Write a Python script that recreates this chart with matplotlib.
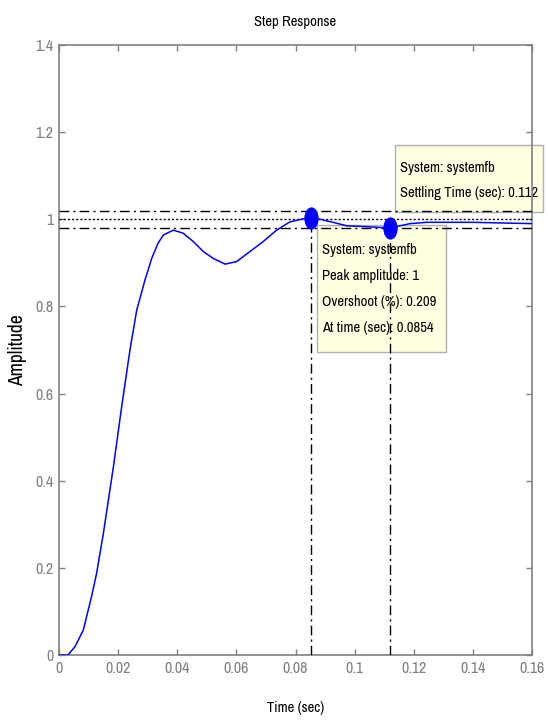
import matplotlib
matplotlib.use('Agg')
import matplotlib.pyplot as plt
from matplotlib.patches import Rectangle
from matplotlib.path import Path
from matplotlib.transforms import Affine2D
from matplotlib.ticker import FormatStrFormatter

plt.rcParams['font.family'] = ['Archivo Narrow', 'Liberation Sans', 'DejaVu Sans']

# step response
time = [0, 0.003, 0.0054, 0.0082, 0.011, 0.0127, 0.015, 0.0184, 0.0212, 0.024,
        0.0263, 0.0291, 0.0314, 0.0335, 0.0353, 0.0387, 0.042, 0.0454, 0.0488,
        0.0522, 0.0562, 0.0601, 0.0646, 0.0691, 0.0736, 0.0781, 0.0826, 0.0854,
        0.0883, 0.0927, 0.0973, 0.104, 0.112, 0.1154, 0.1187, 0.1244, 0.14, 0.16]
amplitude = [0, 0, 0.019, 0.057, 0.134, 0.187, 0.279, 0.432, 0.57, 0.70,
             0.792, 0.861, 0.911, 0.945, 0.964, 0.975, 0.968, 0.949, 0.926,
             0.910, 0.897, 0.903, 0.926, 0.949, 0.975, 0.994, 1.001, 1.002,
             1.0, 0.993, 0.985, 0.983, 0.98, 0.985, 0.990, 0.993, 0.993, 0.99]

peak_time, peak_amp = 0.0854, 1.002
settle_time, settle_amp = 0.112, 0.98
final_value = 1.0
band = [0.98, 1.02]

xticks = [0, 0.02, 0.04, 0.06, 0.08, 0.1, 0.12, 0.14, 0.16]
yticks = [0, 0.2, 0.4, 0.6, 0.8, 1.0, 1.2, 1.4]

peak_tip = ['System: systemfb', 'Peak amplitude: 1',
            'Overshoot (%): 0.209', 'At time (sec): 0.0854']
settle_tip = ['System: systemfb', 'Settling Time (sec): 0.112']

grey = '#808080'
tipcolor = '#ffffe1'
fs = 10.5

fig = plt.figure(figsize=(5.48, 7.22), dpi=100)
ax = fig.add_axes([0.1077, 0.0928, 0.8631, 0.8449])

# data tip boxes (under the lines, like in matlab)
ax.add_patch(Rectangle((0.1137, 1.0167), 0.05, 0.1538, facecolor=tipcolor,
                       edgecolor='#b0b0b0', lw=1, clip_on=False, zorder=1))
ax.add_patch(Rectangle((0.0873, 0.6954), 0.0436, 0.2915, facecolor=tipcolor,
                       edgecolor='#b0b0b0', lw=1, clip_on=False, zorder=1))
for i, s in enumerate(settle_tip):
    ax.text(0.1154, 1.1177 - i * 0.0574, s, fontsize=fs, va='center',
            clip_on=False, zorder=2)
for i, s in enumerate(peak_tip):
    ax.text(0.089, 0.9295 - i * 0.0597, s, fontsize=fs, va='center', zorder=2)

# settling band and final value
dashdot = (0, (7, 3, 1.5, 3))
for b in band:
    ax.axhline(b, color='k', lw=1, ls=dashdot, zorder=3)
ax.axhline(final_value, color='k', lw=1, ls=(0, (1.5, 1.5)), zorder=3)
ax.plot([peak_time, peak_time], [0, peak_amp], color='k', lw=1, ls=dashdot, zorder=3)
ax.plot([settle_time, settle_time], [0, settle_amp], color='k', lw=1, ls=dashdot, zorder=3)

ax.plot(time, amplitude, color='#0000ff', lw=1.1, zorder=4)

# tall oval markers
oval = Path.unit_circle().transformed(Affine2D().scale(0.62, 1.0))
ax.plot([peak_time, settle_time], [peak_amp, settle_amp], ls='none',
        marker=oval, markersize=15, color='#0000ff', zorder=5)

ax.set_xlim(0, 0.16)
ax.set_ylim(0, 1.4)
ax.set_xticks(xticks)
ax.set_yticks(yticks)
ax.xaxis.set_major_formatter(FormatStrFormatter('%g'))
ax.yaxis.set_major_formatter(FormatStrFormatter('%g'))
ax.tick_params(direction='in', length=4, width=1, color=grey, labelcolor=grey,
               labelsize=11.5, top=True, right=True, pad=4)
for sp in ax.spines.values():
    sp.set_color(grey)
    sp.set_linewidth(1.2)

ax.set_title('Step Response', fontsize=fs, pad=14)
ax.set_xlabel('Time (sec)', fontsize=fs)
ax.set_ylabel('Amplitude', fontsize=14)
ax.xaxis.set_label_coords(0.5, -0.0754)
ax.yaxis.set_label_coords(-0.068, 0.5)

fig.savefig('out.png', dpi=100)
